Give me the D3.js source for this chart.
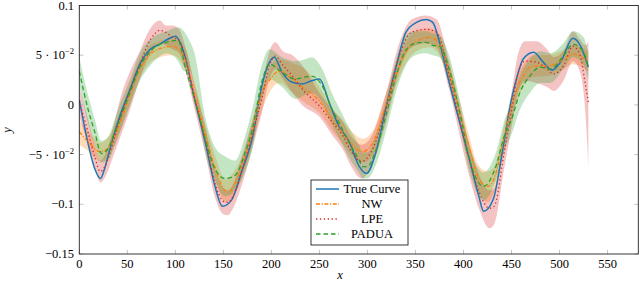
<!DOCTYPE html>
<html>
  <head>
    <meta http-equiv="Content-Type" content="text/html;charset=utf-8"/>
    <title>Kernel regression comparison</title>
    <script src="https://d3js.org/d3.v7.min.js" charset="utf-8"></script>
    <style>
      body { margin: 0; background: #fff; }
      svg { font-family: "Liberation Serif", "DejaVu Serif", serif; }
      svg text { font-family: "Liberation Serif", "DejaVu Serif", serif; font-size: 12.5px; fill: #000; }
    </style>
  </head>
  <body>
    <div id="chart"></div>
  <script>
  ////////////////////////////////////////////////////////////
  //////////////////////// Data //////////////////////////////
  ////////////////////////////////////////////////////////////

  // [x, y]
  var trueCurve = [[0,0.005],[8,-0.034],[16,-0.064],[22,-0.074],[27,-0.062],[32,-0.044],[42,-0.012],[53,0.016],[63,0.041],[74,0.056],[84,0.061],[94,0.067],[100,0.069],[110,0.049],[120,0.006],[131,-0.037],[141,-0.081],[149,-0.102],[159,-0.095],[169,-0.067],[180,-0.034],[190,0.019],[198,0.043],[203,0.048],[211,0.033],[221,0.023],[232,0.021],[241,0.024],[250,0.026],[260,0.003],[270,-0.021],[281,-0.037],[291,-0.061],[299,-0.069],[309,-0.047],[319,-0.004],[330,0.039],[340,0.073],[351,0.083],[361,0.086],[368,0.083],[375,0.063],[385,0.023],[395,-0.014],[406,-0.054],[416,-0.092],[421,-0.107],[431,-0.095],[441,-0.044],[448,-0.004],[456,0.029],[462,0.046],[473,0.053],[483,0.043],[492,0.035],[501,0.043],[514,0.067],[522,0.059],[530,0.038]];

  var nwCurve = [[0,-0.027],[9,-0.037],[22,-0.047],[32,-0.041],[42,-0.019],[53,0.011],[63,0.036],[74,0.051],[82,0.056],[97,0.059],[110,0.046],[120,0.011],[131,-0.029],[141,-0.062],[150,-0.084],[155,-0.088],[163,-0.077],[170,-0.059],[180,-0.029],[188,0.006],[199,0.026],[208,0.034],[222,0.026],[235,0.016],[250,0.004],[263,-0.014],[275,-0.029],[285,-0.041],[295,-0.047],[305,-0.039],[318,-0.004],[330,0.031],[342,0.056],[355,0.066],[365,0.068],[375,0.061],[385,0.031],[395,-0.004],[405,-0.039],[415,-0.072],[425,-0.082],[432,-0.074],[442,-0.034],[452,0.006],[462,0.029],[472,0.039],[487,0.039],[501,0.044],[514,0.051],[530,0.044]];

  var lpeCurve = [[0,0.003],[9,-0.027],[16,-0.052],[22,-0.067],[30,-0.054],[36,-0.035],[42,-0.015],[53,0.015],[63,0.040],[70,0.058],[79,0.072],[84,0.075],[90,0.073],[97,0.068],[104,0.065],[110,0.048],[120,0.008],[131,-0.035],[141,-0.078],[150,-0.097],[155,-0.098],[160,-0.092],[170,-0.064],[180,-0.030],[190,0.006],[198,0.040],[204,0.049],[212,0.040],[222,0.029],[232,0.016],[250,-0.001],[263,-0.017],[275,-0.032],[282,-0.045],[294,-0.057],[304,-0.047],[320,-0.001],[333,0.049],[346,0.073],[361,0.076],[372,0.073],[385,0.030],[395,-0.012],[405,-0.052],[416,-0.087],[427,-0.104],[432,-0.102],[442,-0.050],[452,0.006],[456,0.029],[464,0.044],[476,0.043],[487,0.036],[494,0.031],[504,0.039],[514,0.059],[521,0.051],[527,0.020],[530,0.002]];

  var paduaCurve = [[0,0.034],[9,-0.004],[16,-0.027],[23,-0.049],[30,-0.044],[37,-0.027],[42,-0.015],[53,0.013],[63,0.038],[74,0.054],[80,0.059],[91,0.063],[103,0.065],[110,0.039],[120,0.006],[131,-0.034],[141,-0.064],[152,-0.074],[162,-0.071],[173,-0.047],[180,-0.025],[190,0.023],[198,0.041],[211,0.033],[225,0.026],[235,0.028],[242,0.029],[253,0.019],[263,-0.004],[272,-0.021],[282,-0.040],[291,-0.055],[295,-0.062],[300,-0.062],[309,-0.045],[320,-0.008],[330,0.030],[340,0.055],[350,0.062],[361,0.063],[368,0.060],[375,0.059],[385,0.036],[396,-0.007],[406,-0.054],[421,-0.082],[433,-0.064],[444,-0.027],[449,-0.017],[459,0.013],[469,0.029],[480,0.038],[490,0.036],[504,0.049],[514,0.061],[525,0.053],[530,0.038]];

  // [x, lower, upper]
  var nwBand = [[0,-0.040,-0.016],[10,-0.047,-0.027],[22,-0.057,-0.038],[32,-0.050,-0.030],[42,-0.028,-0.008],[53,0.002,0.022],[63,0.027,0.046],[74,0.043,0.060],[84,0.048,0.064],[97,0.050,0.068],[110,0.036,0.058],[120,0.000,0.022],[131,-0.040,-0.018],[141,-0.074,-0.050],[152,-0.098,-0.075],[163,-0.088,-0.064],[172,-0.066,-0.045],[180,-0.040,-0.018],[190,-0.006,0.016],[199,0.014,0.038],[208,0.022,0.046],[222,0.012,0.042],[235,0.002,0.036],[250,-0.008,0.018],[263,-0.026,-0.003],[275,-0.040,-0.016],[285,-0.052,-0.028],[295,-0.058,-0.034],[305,-0.052,-0.027],[318,-0.016,0.008],[330,0.020,0.042],[342,0.045,0.066],[355,0.056,0.076],[365,0.058,0.077],[375,0.050,0.070],[385,0.020,0.042],[395,-0.016,0.008],[405,-0.052,-0.028],[415,-0.084,-0.060],[425,-0.098,-0.067],[432,-0.088,-0.062],[442,-0.048,-0.022],[452,-0.008,0.018],[462,0.018,0.040],[472,0.028,0.050],[487,0.029,0.050],[501,0.034,0.054],[514,0.041,0.060],[530,0.034,0.054]];

  var lpeBand = [[0,-0.012,0.018],[9,-0.040,-0.014],[16,-0.064,-0.040],[22,-0.078,-0.056],[30,-0.066,-0.042],[36,-0.050,-0.020],[42,-0.034,0.004],[53,-0.004,0.034],[63,0.026,0.054],[70,0.044,0.070],[79,0.058,0.083],[84,0.062,0.085],[90,0.060,0.080],[97,0.056,0.080],[104,0.052,0.076],[110,0.036,0.060],[120,-0.004,0.020],[131,-0.048,-0.022],[141,-0.092,-0.064],[150,-0.110,-0.084],[155,-0.111,-0.086],[160,-0.104,-0.080],[170,-0.078,-0.050],[180,-0.044,-0.016],[190,-0.008,0.020],[198,0.026,0.054],[204,0.036,0.063],[212,0.026,0.054],[222,0.012,0.050],[232,0.000,0.040],[250,-0.012,0.012],[263,-0.030,-0.004],[275,-0.046,-0.018],[282,-0.060,-0.030],[294,-0.074,-0.040],[304,-0.062,-0.032],[320,-0.016,0.014],[333,0.034,0.062],[346,0.058,0.086],[361,0.062,0.090],[372,0.058,0.086],[385,0.016,0.044],[395,-0.026,0.002],[405,-0.068,-0.036],[416,-0.104,-0.070],[427,-0.124,-0.086],[432,-0.120,-0.084],[442,-0.066,-0.034],[452,-0.012,0.024],[456,0.010,0.048],[464,0.024,0.064],[476,0.022,0.064],[487,0.018,0.056],[494,0.014,0.048],[504,0.024,0.054],[514,0.044,0.074],[521,0.034,0.066],[527,-0.010,0.060],[530,-0.062,0.064]];

  var paduaBand = [[0,0.020,0.048],[9,-0.018,0.010],[16,-0.040,-0.014],[23,-0.058,-0.036],[30,-0.056,-0.032],[37,-0.040,-0.014],[42,-0.028,0.000],[53,0.000,0.026],[63,0.024,0.052],[74,0.040,0.066],[80,0.046,0.070],[91,0.052,0.074],[103,0.044,0.078],[109,0.034,0.074],[115,0.034,0.064],[120,0.018,0.052],[131,-0.048,-0.012],[141,-0.076,-0.042],[152,-0.092,-0.052],[162,-0.086,-0.056],[173,-0.066,-0.030],[180,-0.045,-0.005],[190,0.006,0.040],[198,0.026,0.056],[211,0.018,0.048],[225,0.006,0.044],[235,0.010,0.046],[242,0.012,0.048],[253,0.002,0.036],[263,-0.020,0.012],[272,-0.036,-0.006],[282,-0.055,-0.025],[291,-0.068,-0.040],[295,-0.074,-0.048],[300,-0.074,-0.048],[309,-0.060,-0.030],[320,-0.024,0.008],[330,0.014,0.046],[340,0.040,0.070],[350,0.050,0.074],[361,0.052,0.074],[368,0.050,0.072],[375,0.048,0.070],[385,0.024,0.050],[396,-0.020,0.006],[406,-0.066,-0.040],[421,-0.096,-0.068],[433,-0.078,-0.050],[444,-0.042,-0.012],[449,-0.032,-0.002],[459,-0.004,0.030],[469,0.012,0.046],[480,0.022,0.054],[490,0.022,0.052],[504,0.036,0.062],[514,0.048,0.074],[525,0.040,0.068],[530,0.026,0.052]];

  var xTicks = [0,50,100,150,200,250,300,350,400,450,500,550];
  var yTicks = [-0.15,-0.1,-0.05,0,0.05,0.1];
  var seriesNames = ["True Curve","NW","LPE","PADUA"];

  ////////////////////////////////////////////////////////////
  //////////////////////// Set-Up ////////////////////////////
  ////////////////////////////////////////////////////////////

  var width = 640, height = 282;
  var plot = {left: 79.3, right: 638.3, top: 5.5, bottom: 254};
  var fontFamily = "'Liberation Serif', 'DejaVu Serif', serif";

  var x = d3.scaleLinear().domain([0, 582]).range([plot.left, plot.right]);
  var y = d3.scaleLinear().domain([-0.15, 0.1]).range([plot.bottom, plot.top]);

  var svg = d3.select("#chart").append("svg")
              .attr("width", width)
              .attr("height", height)
              .attr("font-family", fontFamily);

  var styles = [
    {color: "#1f77b4", dash: null, width: 1.5},
    {color: "#ff7f0e", dash: "4,1.6,1.2,1.6", width: 1.3},
    {color: "#d62728", dash: "1.3,2.6", width: 1.3},
    {color: "#2ca02c", dash: "4.5,3", width: 1.3}
  ];

  var line = d3.line()
               .x(function(d) { return x(d[0]); })
               .y(function(d) { return y(d[1]); })
               .curve(d3.curveMonotoneX);

  var area = d3.area()
               .x(function(d) { return x(d[0]); })
               .y0(function(d) { return y(d[1]); })
               .y1(function(d) { return y(d[2]); })
               .curve(d3.curveMonotoneX);

  svg.append("clipPath").attr("id", "clip")
     .append("rect")
     .attr("x", plot.left).attr("y", plot.top)
     .attr("width", plot.right - plot.left).attr("height", plot.bottom - plot.top);

  var g = svg.append("g").attr("clip-path", "url(#clip)");

  // confidence bands
  [[nwBand, 1], [lpeBand, 2], [paduaBand, 3]].forEach(function(b) {
    g.append("path")
     .attr("d", area(b[0]))
     .style("fill", styles[b[1]].color)
     .style("fill-opacity", 0.28)
     .style("stroke", "none");
  });

  // curves
  [trueCurve, nwCurve, lpeCurve, paduaCurve].forEach(function(c, i) {
    g.append("path")
     .attr("d", line(c))
     .style("fill", "none")
     .style("stroke", styles[i].color)
     .style("stroke-width", styles[i].width)
     .style("stroke-dasharray", styles[i].dash);
  });

  ////////////////////////////////////////////////////////////
  //////////////////////// Axes //////////////////////////////
  ////////////////////////////////////////////////////////////

  var tickColor = "#9a9a9a";

  xTicks.forEach(function(t) {
    var px = x(t);
    svg.append("line").attr("x1", px).attr("x2", px)
       .attr("y1", plot.bottom).attr("y2", plot.bottom - 4)
       .style("stroke", tickColor).style("stroke-width", 0.6);
    svg.append("line").attr("x1", px).attr("x2", px)
       .attr("y1", plot.top).attr("y2", plot.top + 4)
       .style("stroke", tickColor).style("stroke-width", 0.6);
    svg.append("text").attr("x", px).attr("y", 268)
       .attr("text-anchor", "middle")
       .text(t);
  });

  yTicks.forEach(function(t) {
    var py = y(t);
    svg.append("line").attr("x1", plot.left).attr("x2", plot.left + 4)
       .attr("y1", py).attr("y2", py)
       .style("stroke", tickColor).style("stroke-width", 0.6);
    svg.append("line").attr("x1", plot.right).attr("x2", plot.right - 4)
       .attr("y1", py).attr("y2", py)
       .style("stroke", tickColor).style("stroke-width", 0.6);
    var txt = svg.append("text").attr("x", 74).attr("y", py + 4)
       .attr("text-anchor", "end");
    if (Math.abs(t) === 0.05) {
      txt.append("tspan").text((t < 0 ? "\u2212" : "") + "5 \u00b7 10");
      txt.append("tspan").attr("dy", -5).style("font-size", "8.5px").text("\u22122");
    } else {
      txt.text(t < 0 ? "\u2212" + Math.abs(t) : t);
    }
  });

  svg.append("rect")
     .attr("x", plot.left).attr("y", plot.top)
     .attr("width", plot.right - plot.left).attr("height", plot.bottom - plot.top)
     .style("fill", "none").style("stroke", "#222").style("stroke-width", 0.9);

  svg.append("text").attr("x", 340).attr("y", 279)
     .attr("text-anchor", "middle").style("font-style", "italic").text("x");
  svg.append("text").attr("transform", "translate(11,130) rotate(-90)")
     .attr("text-anchor", "middle").style("font-style", "italic").text("y");

  ////////////////////////////////////////////////////////////
  //////////////////////// Legend ////////////////////////////
  ////////////////////////////////////////////////////////////

  var legend = svg.append("g").attr("transform", "translate(311,180)");
  legend.append("rect").attr("width", 97).attr("height", 65)
        .style("fill", "#fff").style("stroke", "#222").style("stroke-width", 0.9);

  seriesNames.forEach(function(name, i) {
    var ly = 9 + i * 15;
    legend.append("line").attr("x1", 5).attr("x2", 28)
          .attr("y1", ly).attr("y2", ly)
          .style("stroke", styles[i].color)
          .style("stroke-width", styles[i].width)
          .style("stroke-dasharray", styles[i].dash);
    legend.append("text").attr("x", 61).attr("y", ly + 4)
          .attr("text-anchor", "middle").text(name);
  });
  </script>
  </body>
</html>
